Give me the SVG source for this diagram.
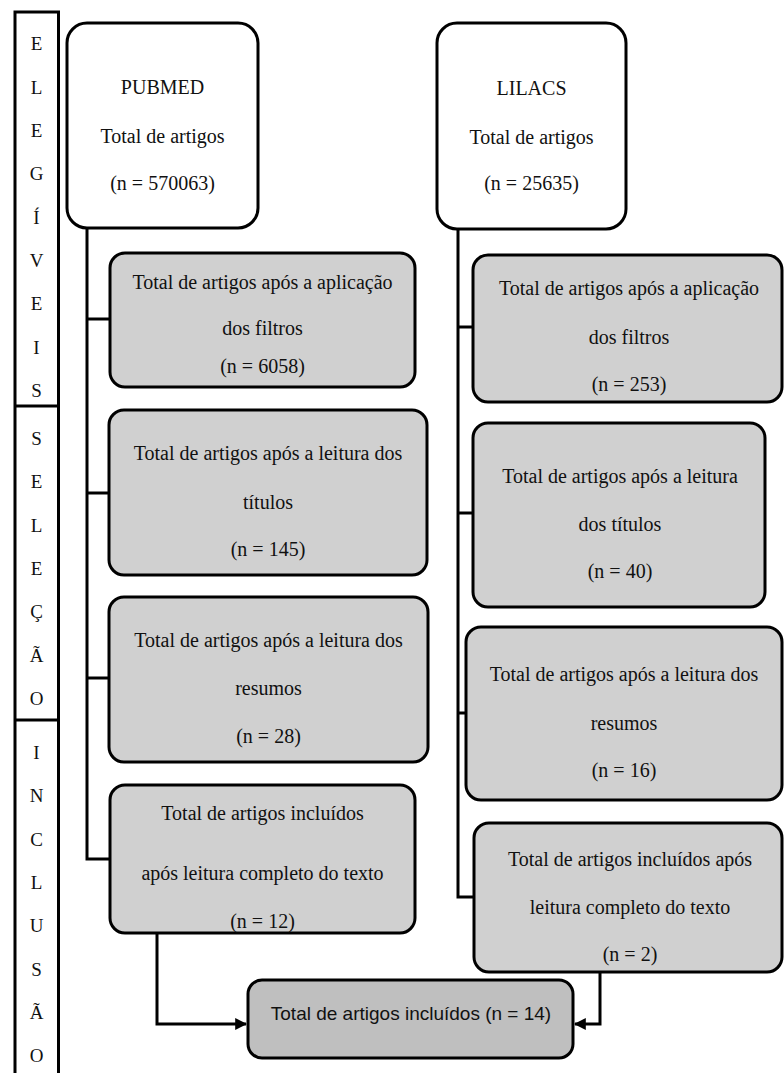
<svg xmlns="http://www.w3.org/2000/svg" width="784" height="1073" viewBox="0 0 784 1073">
<defs>
<style>
.t{font-family:"Liberation Serif","Times New Roman",serif;font-size:20px;fill:#111;text-anchor:middle}
.c{font-family:"Liberation Serif","Times New Roman",serif;font-size:19px;fill:#111;text-anchor:middle}
.s{font-family:"Liberation Sans",Arial,sans-serif;font-size:19px;fill:#111;text-anchor:middle}
.w{fill:#fff;stroke:#000;stroke-width:3}
.g{fill:#d0d0d0;stroke:#000;stroke-width:3}
.f{fill:#bfbfbf;stroke:#000;stroke-width:3}
.ln{fill:none;stroke:#000;stroke-width:3}
</style>
<marker id="ah" viewBox="0 0 10 10" refX="9" refY="5" markerWidth="4" markerHeight="4" orient="auto" markerUnits="strokeWidth">
<path d="M0,0 L10,5 L0,10 z" fill="#000"/>
</marker>
</defs>
<rect width="784" height="1073" fill="#fff"/>

<g id="side-column">
<rect x="15" y="12" width="43.5" height="1070" fill="#fff" stroke="#000" stroke-width="3"/>
<line x1="15" y1="406" x2="58.5" y2="406" stroke="#000" stroke-width="3"/>
<line x1="15" y1="720" x2="58.5" y2="720" stroke="#000" stroke-width="3"/>
<text class="c" x="36.5" y="49.5">E</text>
<text class="c" x="36.5" y="93.5">L</text>
<text class="c" x="36.5" y="136.5">E</text>
<text class="c" x="36.5" y="179.5">G</text>
<text class="c" x="36.5" y="223.5">Í</text>
<text class="c" x="36.5" y="266.5">V</text>
<text class="c" x="36.5" y="309.5">E</text>
<text class="c" x="36.5" y="353.5">I</text>
<text class="c" x="36.5" y="396.5">S</text>
<text class="c" x="36.5" y="444.5">S</text>
<text class="c" x="36.5" y="487.5">E</text>
<text class="c" x="36.5" y="531.5">L</text>
<text class="c" x="36.5" y="574.5">E</text>
<text class="c" x="36.5" y="617.5">Ç</text>
<text class="c" x="36.5" y="661.5">Ã</text>
<text class="c" x="36.5" y="704.5">O</text>
<text class="c" x="36.5" y="758.5">I</text>
<text class="c" x="36.5" y="801.5">N</text>
<text class="c" x="36.5" y="845.5">C</text>
<text class="c" x="36.5" y="888.5">L</text>
<text class="c" x="36.5" y="931.5">U</text>
<text class="c" x="36.5" y="975.5">S</text>
<text class="c" x="36.5" y="1018.5">Ã</text>
<text class="c" x="36.5" y="1061.5">O</text>
</g>

<g id="connectors">
<path class="ln" d="M87,228 V859 H110"/>
<path class="ln" d="M87,319 H110"/>
<path class="ln" d="M87,493 H110"/>
<path class="ln" d="M87,678 H110"/>
<path class="ln" d="M458,229 V897 H474"/>
<path class="ln" d="M458,327 H473"/>
<path class="ln" d="M458,513 H473"/>
<path class="ln" d="M458,713 H466"/>
<path class="ln" d="M157,933 V1024 H246" marker-end="url(#ah)"/>
<path class="ln" d="M600,972 V1024 H575" marker-end="url(#ah)"/>
</g>

<g id="pubmed">
<rect class="w" x="67" y="23" width="191" height="205" rx="20"/>
<text class="t" x="162.5" y="94">PUBMED</text>
<text class="t" x="162.5" y="143">Total de artigos</text>
<text class="t" x="162.5" y="190">(n = 570063)</text>
</g>

<g id="pubmed-filtros">
<rect class="g" x="110" y="253" width="305" height="134" rx="15"/>
<text class="t" x="262.5" y="289">Total de artigos após a aplicação</text>
<text class="t" x="262.5" y="335">dos filtros</text>
<text class="t" x="262.5" y="373">(n = 6058)</text>
</g>

<g id="pubmed-titulos">
<rect class="g" x="109" y="410" width="318" height="165" rx="15"/>
<text class="t" x="268" y="460">Total de artigos após a leitura dos</text>
<text class="t" x="268" y="509">títulos</text>
<text class="t" x="268" y="556">(n = 145)</text>
</g>

<g id="pubmed-resumos">
<rect class="g" x="109" y="597" width="319" height="165" rx="15"/>
<text class="t" x="268.5" y="647">Total de artigos após a leitura dos</text>
<text class="t" x="268.5" y="695">resumos</text>
<text class="t" x="268.5" y="743">(n = 28)</text>
</g>

<g id="pubmed-incluidos">
<rect class="g" x="110" y="785" width="305" height="148" rx="15"/>
<text class="t" x="262.5" y="820">Total de artigos incluídos</text>
<text class="t" x="262.5" y="880">após leitura completo do texto</text>
<text class="t" x="262.5" y="928">(n = 12)</text>
</g>

<g id="lilacs">
<rect class="w" x="437" y="23" width="189" height="206" rx="20"/>
<text class="t" x="531.5" y="95">LILACS</text>
<text class="t" x="531.5" y="144">Total de artigos</text>
<text class="t" x="531.5" y="190">(n = 25635)</text>
</g>

<g id="lilacs-filtros">
<rect class="g" x="473" y="255" width="309" height="147" rx="15"/>
<text class="t" x="629" y="295">Total de artigos após a aplicação</text>
<text class="t" x="629" y="344">dos filtros</text>
<text class="t" x="629" y="391">(n = 253)</text>
</g>

<g id="lilacs-titulos">
<rect class="g" x="473" y="423" width="292" height="184" rx="15"/>
<text class="t" x="620" y="483">Total de artigos após a leitura</text>
<text class="t" x="620" y="531">dos títulos</text>
<text class="t" x="620" y="578">(n = 40)</text>
</g>

<g id="lilacs-resumos">
<rect class="g" x="466" y="627" width="316" height="173" rx="15"/>
<text class="t" x="624" y="681">Total de artigos após a leitura dos</text>
<text class="t" x="624" y="730">resumos</text>
<text class="t" x="624" y="777">(n = 16)</text>
</g>

<g id="lilacs-incluidos">
<rect class="g" x="474" y="823" width="308" height="149" rx="15"/>
<text class="t" x="630" y="866">Total de artigos incluídos após</text>
<text class="t" x="630" y="914">leitura completo do texto</text>
<text class="t" x="630" y="961">(n = 2)</text>
</g>

<g id="total">
<rect class="f" x="248" y="980" width="325" height="78" rx="14"/>
<text class="s" x="411" y="1020">Total de artigos incluídos (n = 14)</text>
</g>
</svg>
